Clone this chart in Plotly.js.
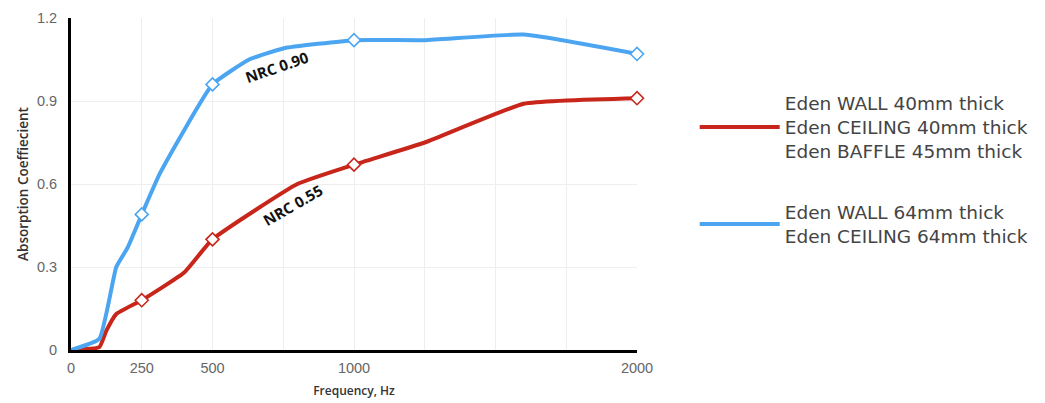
<!DOCTYPE html>
<html>
<head>
<meta charset="utf-8">
<script src="https://cdn.plot.ly/plotly-3.0.1.min.js"></script>
<style>html,body{margin:0;padding:0;background:#fff;}#chart{width:1045px;height:403px;}</style>
</head>
<body>
<div id="chart"></div>
<script>
// Data
const freq64 = [0, 100, 160, 200, 250, 315, 500, 630, 750, 1000, 1250, 1600, 2000];
const coef64 = [0, 0.04, 0.30, 0.37, 0.49, 0.64, 0.96, 1.05, 1.09, 1.12, 1.12, 1.14, 1.07];
const freq40 = [0, 100, 125, 160, 250, 400, 500, 800, 1000, 1250, 1600, 2000];
const coef40 = [0, 0.01, 0.07, 0.13, 0.18, 0.28, 0.40, 0.60, 0.67, 0.75, 0.89, 0.91];
const markedFreqs = [250, 500, 1000, 2000];
const xTickVals = [0, 250, 500, 1000, 2000];
const yTickVals = [0, 0.3, 0.6, 0.9, 1.2];
const name40 = 'Eden WALL 40mm thick<br>Eden CEILING 40mm thick<br>Eden BAFFLE 45mm thick';
const name64 = 'Eden WALL 64mm thick<br>Eden CEILING 64mm thick';
const nrcLabels = [
  {text: 'NRC 0.90', x: 727, y: 1.023, angle: -19},
  {text: 'NRC 0.55', x: 783, y: 0.524, angle: -30}
];

const TICKFONT = 'Liberation Sans, Arial, sans-serif';
const TITLEFONT = '"Open Sans", sans-serif';
const LEGENDFONT = '"DejaVu Sans", sans-serif';
const RED = '#c8261b', BLUE = '#4ba5f0';

function pick(xs, ys) {
  const px = [], py = [];
  xs.forEach((v, i) => { if (markedFreqs.includes(v)) { px.push(v); py.push(ys[i]); } });
  return {x: px, y: py};
}
const m40 = pick(freq40, coef40);
const m64 = pick(freq64, coef64);

const traces = [
  {
    x: freq40, y: coef40, name: name40, legendgroup: 'g40', type: 'scatter', mode: 'lines',
    line: {color: RED, width: 4, shape: 'spline', smoothing: 0.4}
  },
  {
    x: m40.x, y: m40.y, legendgroup: 'g40', showlegend: false, type: 'scatter', mode: 'markers',
    cliponaxis: false,
    marker: {symbol: 'diamond', size: 10, color: '#ffffff', line: {color: RED, width: 1.6}}
  },
  {
    x: freq64, y: coef64, name: name64, legendgroup: 'g64', type: 'scatter', mode: 'lines',
    line: {color: BLUE, width: 4, shape: 'spline', smoothing: 0.4}
  },
  {
    x: m64.x, y: m64.y, legendgroup: 'g64', showlegend: false, type: 'scatter', mode: 'markers',
    cliponaxis: false,
    marker: {symbol: 'diamond', size: 10, color: '#ffffff', line: {color: BLUE, width: 1.6}}
  }
];

const layout = {
  width: 1045, height: 403,
  margin: {l: 71, r: 407, t: 18, b: 53},
  paper_bgcolor: '#ffffff', plot_bgcolor: '#ffffff',
  font: {family: TICKFONT, color: '#555'},
  showlegend: true,
  legend: {
    x: 1.10, xanchor: 'left', y: 0.80, yanchor: 'top',
    font: {family: LEGENDFONT, size: 18.5, color: '#444'},
    valign: 'middle', itemwidth: 80, tracegroupgap: 34,
    traceorder: 'grouped', bgcolor: 'rgba(0,0,0,0)'
  },
  xaxis: {
    range: [0, 2000], tickmode: 'array', tickvals: xTickVals,
    showline: true, linecolor: '#000', linewidth: 3,
    showgrid: true, gridcolor: '#eeeeee', gridwidth: 1,
    minor: {dtick: 250, showgrid: true, gridcolor: '#eeeeee', gridwidth: 1},
    zeroline: false, ticks: '', ticklen: 0, ticklabelstandoff: 3,
    tickfont: {family: TICKFONT, size: 14.5, color: '#666'},
    title: {text: 'Frequency, Hz', font: {family: TITLEFONT, size: 12, color: '#333', weight: 600}, standoff: 12}
  },
  yaxis: {
    range: [0, 1.2], tickmode: 'array', tickvals: yTickVals, ticktext: ['0', '0.3', '0.6', '0.9', '1.2'],
    showline: true, linecolor: '#000', linewidth: 3,
    showgrid: true, gridcolor: '#eeeeee', gridwidth: 1,
    zeroline: false, ticks: '', ticklen: 0, ticklabelstandoff: 8,
    tickfont: {family: TICKFONT, size: 14.5, color: '#666'},
    title: {text: 'Absorption Coeffiecient', font: {family: TITLEFONT, size: 13.5, color: '#333', weight: 600}, standoff: 6}
  },
  annotations: nrcLabels.map(a => ({
    x: a.x, y: a.y, xref: 'x', yref: 'y', text: '<b>' + a.text + '</b>', textangle: a.angle,
    showarrow: false, font: {family: TITLEFONT, size: 15, color: '#111'}
  }))
};

Plotly.newPlot('chart', traces, layout, {staticPlot: true, displayModeBar: false});
</script>
</body>
</html>
